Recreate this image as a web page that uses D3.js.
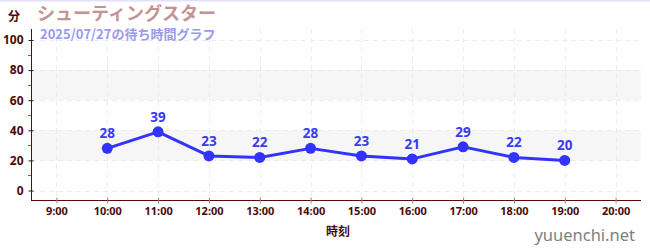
<!DOCTYPE html>
<html>
<head>
<meta charset="utf-8">
<script src="https://cdn.jsdelivr.net/npm/d3@7"></script>
<style>
  html, body { margin: 0; padding: 0; background: #fff; }
  svg { display: block; font-family: "Noto Sans CJK JP", "Noto Sans", sans-serif; }
</style>
</head>
<body>
<svg id="chart" width="650" height="250"></svg>
<script>
// Waiting times (minutes) by hour
const hours = [10, 11, 12, 13, 14, 15, 16, 17, 18, 19];
const waits = [28, 39, 23, 22, 28, 23, 21, 29, 22, 20];
const xTickHours = [9, 10, 11, 12, 13, 14, 15, 16, 17, 18, 19, 20];
const yTicks = [0, 20, 40, 60, 80, 100];
const yMinorTicks = [10, 30, 50, 70, 90];
const bands = [[20, 40], [60, 80]];

const title = "シューティングスター";
const subtitle = "2025/07/27の待ち時間グラフ";
const yUnit = "分";
const xTitle = "時刻";
const site = "yuuenchi.net";

const svg = d3.select("#chart");
const plotL = 31, plotR = 641, plotT = 29, plotB = 200;

const x = d3.scaleLinear().domain([8.5, 20.5]).range([plotL, plotR]);
const y = d3.scaleLinear().domain([-6.3, 107.3]).range([plotB, plotT]);

// top rule
svg.append("rect").attr("x", 0).attr("y", 0).attr("width", 650).attr("height", 1.5).attr("fill", "#e2e2fa");

// alternating bands
svg.append("g").selectAll("rect").data(bands).join("rect")
  .attr("x", plotL).attr("width", plotR - plotL)
  .attr("y", d => y(d[1])).attr("height", d => y(d[0]) - y(d[1]))
  .attr("fill", "#f6f6f6");

// grid
const grid = svg.append("g").attr("stroke", "#ececec").attr("stroke-dasharray", "5,4").attr("stroke-width", 1);
grid.selectAll("line.h").data(yTicks).join("line").attr("class", "h")
  .attr("x1", plotL).attr("x2", plotR)
  .attr("y1", d => Math.round(y(d)) + 0.5).attr("y2", d => Math.round(y(d)) + 0.5);
grid.selectAll("line.v").data(xTickHours).join("line").attr("class", "v")
  .attr("x1", d => Math.round(x(d)) + 0.5).attr("x2", d => Math.round(x(d)) + 0.5)
  .attr("y1", plotT).attr("y2", plotB);

// y axis
const yAxis = d3.axisLeft(y).tickValues(yTicks).tickSize(5).tickPadding(3).tickFormat(d => d);
const gy = svg.append("g").attr("transform", `translate(${plotL + 0.5},0)`).call(yAxis);
gy.select(".domain").attr("stroke", "#5a0a0a").attr("d", `M0,${plotT}V${plotB}`);
gy.selectAll(".tick line").attr("stroke", "#222").attr("x2", -3).attr("x1", 2);
gy.selectAll(".tick text").attr("fill", "#4a0a0a").attr("font-size", 12).attr("font-weight", "bold")
  .attr("font-family", "'Noto Sans', sans-serif");
svg.append("g").selectAll("line").data(yMinorTicks).join("line")
  .attr("x1", plotL - 3).attr("x2", plotL)
  .attr("y1", d => Math.round(y(d)) + 0.5).attr("y2", d => Math.round(y(d)) + 0.5)
  .attr("stroke", "#e03030").attr("stroke-width", 1);

// x axis
const xAxis = d3.axisBottom(x).tickValues(xTickHours).tickSize(4).tickPadding(3).tickFormat(d => d + ":00");
const gx = svg.append("g").attr("transform", `translate(0,${plotB + 0.5})`).call(xAxis);
gx.select(".domain").attr("stroke", "#5a0a0a").attr("d", `M${plotL},0H${plotR}`);
gx.selectAll(".tick line").attr("stroke", "#888").attr("y1", -3).attr("y2", 3);
gx.selectAll(".tick text").attr("fill", "#4a0a0a").attr("font-size", 11).attr("font-weight", "bold")
  .attr("font-family", "'Noto Sans', sans-serif");

// series
const pts = hours.map((h, i) => [h, waits[i]]);
svg.append("path").datum(pts)
  .attr("fill", "none").attr("stroke", "#3333ff").attr("stroke-width", 3).attr("stroke-linejoin", "round")
  .attr("d", d3.line().x(d => x(d[0])).y(d => y(d[1])));
svg.append("g").selectAll("circle").data(pts).join("circle")
  .attr("cx", d => x(d[0])).attr("cy", d => y(d[1])).attr("r", 5.5).attr("fill", "#3333ff");
svg.append("g").selectAll("text").data(pts).join("text")
  .attr("x", d => x(d[0])).attr("y", d => y(d[1]) - 10)
  .attr("text-anchor", "middle").attr("fill", "#3a3af0")
  .attr("font-size", 13.5).attr("font-weight", "bold").attr("font-family", "'Noto Sans', sans-serif")
  .text(d => d[1]);

// titles
svg.append("text").attr("x", 8).attr("y", 21).attr("fill", "#4a0a0a").attr("font-size", 12).attr("font-weight", "bold").text(yUnit);
svg.append("text").attr("x", 37).attr("y", 19.5).attr("fill", "#c49494").attr("font-size", 18).attr("font-weight", "bold").text(title);
svg.append("text").attr("x", 40).attr("y", 38.5).attr("fill", "#9a9af0").attr("font-size", 13).attr("font-weight", "bold").text(subtitle);
svg.append("text").attr("x", 338).attr("y", 236).attr("text-anchor", "middle").attr("fill", "#4a0a0a").attr("font-size", 12).attr("font-weight", "bold").text(xTitle);
svg.append("text").attr("x", 635).attr("y", 241).attr("text-anchor", "end").attr("fill", "#808080").attr("font-size", 16.5)
  .attr("font-family", "'Noto Sans', sans-serif").text(site);
</script>
</body>
</html>
